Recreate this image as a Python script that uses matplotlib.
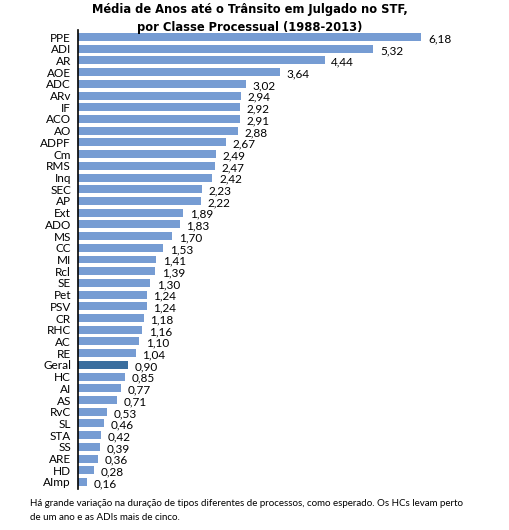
import matplotlib
matplotlib.use("Agg")
import matplotlib.pyplot as plt

categories = ["PPE", "ADI", "AR", "AOE", "ADC", "ARv", "IF", "ACO", "AO", "ADPF",
              "Cm", "RMS", "Inq", "SEC", "AP", "Ext", "ADO", "MS", "CC", "MI",
              "Rcl", "SE", "Pet", "PSV", "CR", "RHC", "AC", "RE", "Geral", "HC",
              "AI", "AS", "RvC", "SL", "STA", "SS", "ARE", "HD", "AImp"]
values = [6.18, 5.32, 4.44, 3.64, 3.02, 2.94, 2.92, 2.91, 2.88, 2.67,
          2.49, 2.47, 2.42, 2.23, 2.22, 1.89, 1.83, 1.70, 1.53, 1.41,
          1.39, 1.30, 1.24, 1.24, 1.18, 1.16, 1.10, 1.04, 0.90, 0.85,
          0.77, 0.71, 0.53, 0.46, 0.42, 0.39, 0.36, 0.28, 0.16]
highlight = "Geral"

title = "Média de Anos até o Trânsito em Julgado no STF,\npor Classe Processual (1988-2013)"
caption = ("Há grande variação na duração de tipos diferentes de processos, como esperado. Os HCs levam perto\n"
           "de um ano e as ADIs mais de cinco.")

light = "#769cd3"
dark = "#3a6e9e"

fig = plt.figure(figsize=(5.1, 5.3), dpi=100)
W, H = 510, 530
left, right, top, bottom = 78, 439, 30, 489
ax = fig.add_axes([left / W, 1 - bottom / H, (right - left) / W, (bottom - top) / H])

ypos = list(range(len(categories)))
colors = [dark if c == highlight else light for c in categories]
ax.barh(ypos, values, height=0.68, color=colors)
ax.set_ylim(len(categories) - 0.4, -0.6)
ax.set_xlim(0, 6.5)
ax.set_yticks(ypos)
ax.set_yticklabels(categories, fontsize=8.5, family="Lato")
ax.tick_params(axis="y", length=0, pad=5)
ax.set_xticks([])
for s in ["top", "right", "bottom"]:
    ax.spines[s].set_visible(False)
ax.spines["left"].set_linewidth(1.2)

for y, v in zip(ypos, values):
    ax.text(v + 0.12, y + 0.15, f"{v:.2f}".replace(".", ","), va="center", ha="left",
            fontsize=8.5, family="Lato")

fig.text(250 / W, 1 - 3 / H, title, ha="center", va="top", fontsize=8.3,
         fontweight="bold", family="DejaVu Sans", linespacing=1.5)
fig.text(30 / W, 1 - 499 / H, caption, ha="left", va="top", fontsize=7,
         family="Lato", linespacing=1.75)

fig.savefig("out.png", dpi=100)
